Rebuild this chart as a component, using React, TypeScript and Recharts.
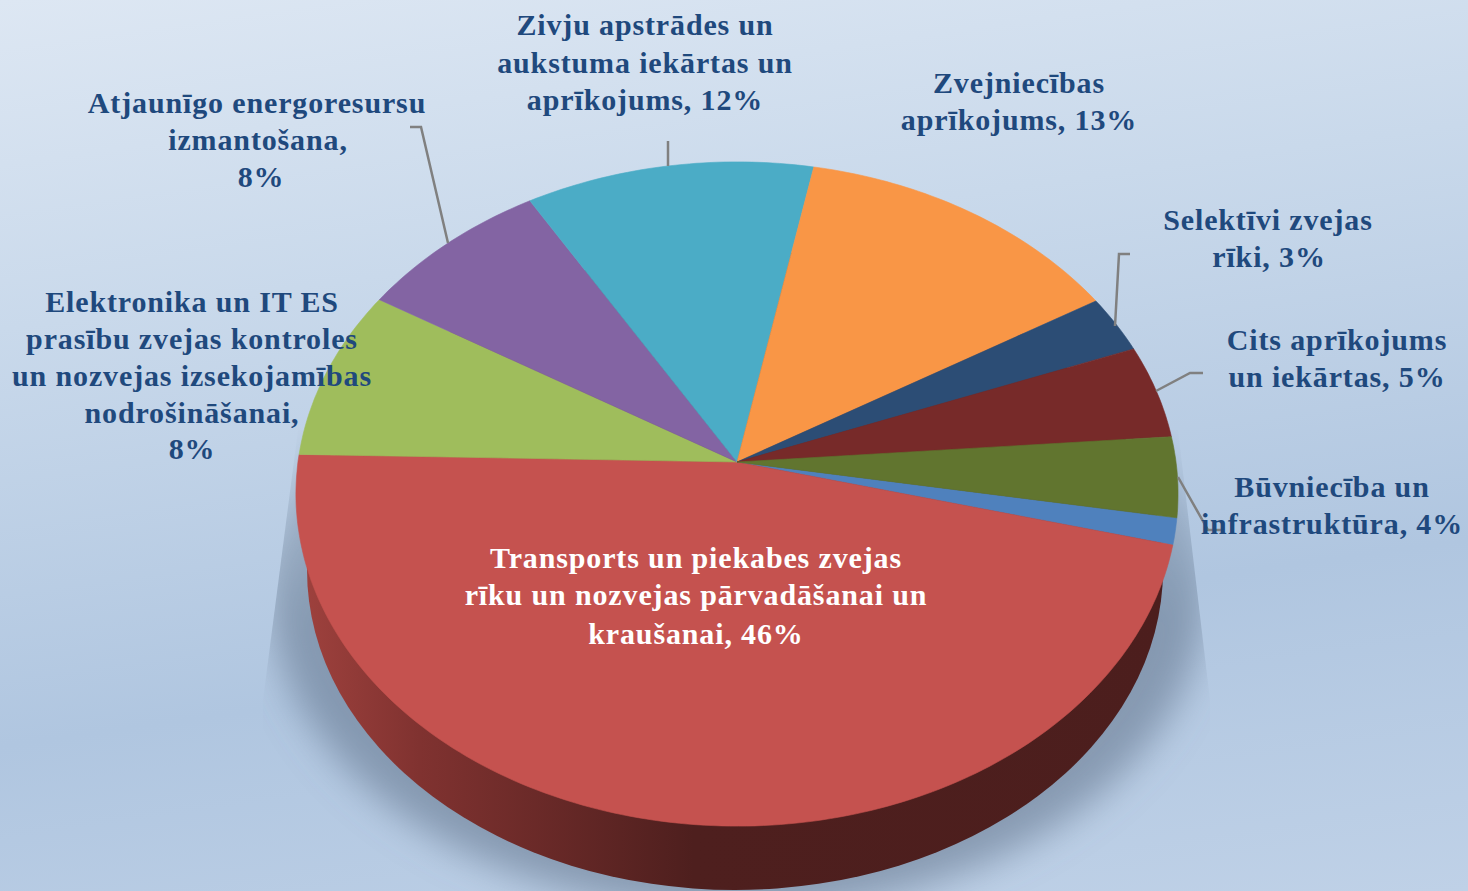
import { Pie, PieChart } from 'recharts';

const categories = [
  'Cits',
  'Transports un piekabes zvejas rīku un nozvejas pārvadāšanai un kraušanai',
  'Elektronika un IT ES prasību zvejas kontroles un nozvejas izsekojamības nodrošināšanai',
  'Atjaunīgo energoresursu izmantošana',
  'Zivju apstrādes un aukstuma iekārtas un aprīkojums',
  'Zvejniecības aprīkojums',
  'Selektīvi zvejas rīki',
  'Cits aprīkojums un iekārtas',
  'Būvniecība un infrastruktūra',
];
const shares = [1.3, 46.4, 8.3, 7.8, 11.6, 13.35, 2.8, 4.55, 3.9];
const colors = ['#4f81bd', '#c5524f', '#9fbd5c', '#8364a3', '#4bacc6', '#f99646', '#2c4d75', '#772a29', '#61752f'];

const labelLines = [
  [],
  ['Transports un piekabes zvejas', 'rīku un nozvejas pārvadāšanai un', 'kraušanai, 46%'],
  ['Elektronika un IT ES', 'prasību zvejas kontroles', 'un nozvejas izsekojamības', 'nodrošināšanai,', '8%'],
  ['Atjaunīgo energoresursu', 'izmantošana,', '8%'],
  ['Zivju apstrādes un', 'aukstuma iekārtas un', 'aprīkojums, 12%'],
  ['Zvejniecības', 'aprīkojums, 13%'],
  ['Selektīvi zvejas', 'rīki, 3%'],
  ['Cits aprīkojums', 'un iekārtas, 5%'],
  ['Būvniecība un', 'infrastruktūra, 4%'],
];

// where each label sits: centre x and baseline of every line
const labelCentres = [
  [],
  [696, 696, 696],
  [192, 192, 192, 192, 192],
  [257, 258, 261],
  [645, 645, 645],
  [1019, 1019],
  [1268, 1269],
  [1337, 1337],
  [1332, 1332],
];
const labelBaselines = [
  [],
  [568, 605, 644],
  [312, 349, 386, 423, 459],
  [113, 150, 187],
  [35, 73, 110],
  [93, 130],
  [230, 267],
  [350, 387],
  [497, 534],
];
const leaderLines = [
  '',
  '',
  '',
  '410,127 421,127 448,243',
  '668,141 668,166',
  '',
  '1130,254 1119,254 1115,326',
  '1203,373 1190,373 1156,391',
  '1178,477 1208,530 1222,530',
];

const data = categories.map((name, i) => ({ name, value: shares[i], fill: colors[i] }));

const CX = 737;
const CY = 462;
const RADIUS = 439;
// the disc is tilted: squash it and foreshorten the far side
const SQUASH = 0.7495;
const PERSPECTIVE = 0.0964;

const project = (cx: number, cy: number, r: number, angle: number) => {
  const a = (angle * Math.PI) / 180;
  const u = Math.cos(a);
  const v = Math.sin(a);
  const w = 1 + PERSPECTIVE * v;
  return [cx + (r * u) / w, cy - (r * SQUASH * v) / w];
};

const TiltedSector = (props: any) => {
  const { cx, cy, outerRadius, startAngle, endAngle, fill } = props;
  const steps = Math.max(2, Math.ceil(Math.abs(endAngle - startAngle)));
  const pts: string[] = [];
  for (let i = 0; i <= steps; i++) {
    const [x, y] = project(cx, cy, outerRadius, startAngle + ((endAngle - startAngle) * i) / steps);
    pts.push(`${x.toFixed(1)} ${y.toFixed(1)}`);
  }
  return <path d={`M${cx} ${cy} L${pts.join(' L')} Z`} fill={fill} stroke={fill} strokeWidth={0.6} />;
};

const renderLabel = (props: any) => {
  const i = props.index;
  const white = i === 1;
  return (
    <g>
      {leaderLines[i] && <polyline points={leaderLines[i]} fill="none" stroke="#808080" strokeWidth={2.5} />}
      <text
        textAnchor="middle"
        fontFamily="'Liberation Serif', serif"
        fontWeight="bold"
        fontSize={30}
        letterSpacing={0.86}
        fill={white ? '#ffffff' : '#1f497d'}
      >
        {labelLines[i].map((line, j) => (
          <tspan key={j} x={labelCentres[i][j]} y={labelBaselines[i][j]}>
            {line}
          </tspan>
        ))}
      </text>
    </g>
  );
};

export default function App() {
  return (
    <div
      style={{
        position: 'fixed',
        left: 0,
        top: 0,
        width: 1468,
        height: 891,
        overflow: 'hidden',
        background: 'linear-gradient(172deg, #dde7f3 0%, #c9d9eb 30%, #b0c6e0 68%, #bfd1e7 100%)',
      }}
    >
      <PieChart width={1468} height={891} margin={{ top: 0, right: 0, bottom: 0, left: 0 }}>
        <defs>
          <linearGradient id="wallShade" x1="296" x2="1178" y1="0" y2="0" gradientUnits="userSpaceOnUse">
            <stop offset="0" stopColor="#a0423e" />
            <stop offset="0.14" stopColor="#803230" />
            <stop offset="0.45" stopColor="#4e1f1e" />
            <stop offset="1" stopColor="#4c1e1d" />
          </linearGradient>
          <linearGradient id="shadowFade" x1="0" x2="0" y1="430" y2="620" gradientUnits="userSpaceOnUse">
            <stop offset="0" stopColor="#64778e" stopOpacity={0.22} />
            <stop offset="1" stopColor="#64778e" stopOpacity={0.58} />
          </linearGradient>
          <filter id="shadowBlur" x="-10%" y="-10%" width="120%" height="120%">
            <feGaussianBlur stdDeviation="18" />
          </filter>
          <clipPath id="shadowClip">
            <polygon points="298,430 1178,430 1210,700 1210,891 263,891 263,700" />
          </clipPath>
        </defs>
        <g clipPath="url(#shadowClip)">
          <ellipse cx={737} cy={590} rx={468} ry={322} fill="url(#shadowFade)" filter="url(#shadowBlur)" />
        </g>
        <ellipse cx={735} cy={570} rx={428} ry={320} fill="url(#wallShade)" />
        <Pie
          data={data}
          dataKey="value"
          nameKey="name"
          cx={CX}
          cy={CY}
          innerRadius={0}
          outerRadius={RADIUS}
          startAngle={-9.6}
          endAngle={-369.6}
          stroke="none"
          shape={TiltedSector}
          label={renderLabel}
          labelLine={false}
          isAnimationActive={false}
        />
      </PieChart>
    </div>
  );
}
